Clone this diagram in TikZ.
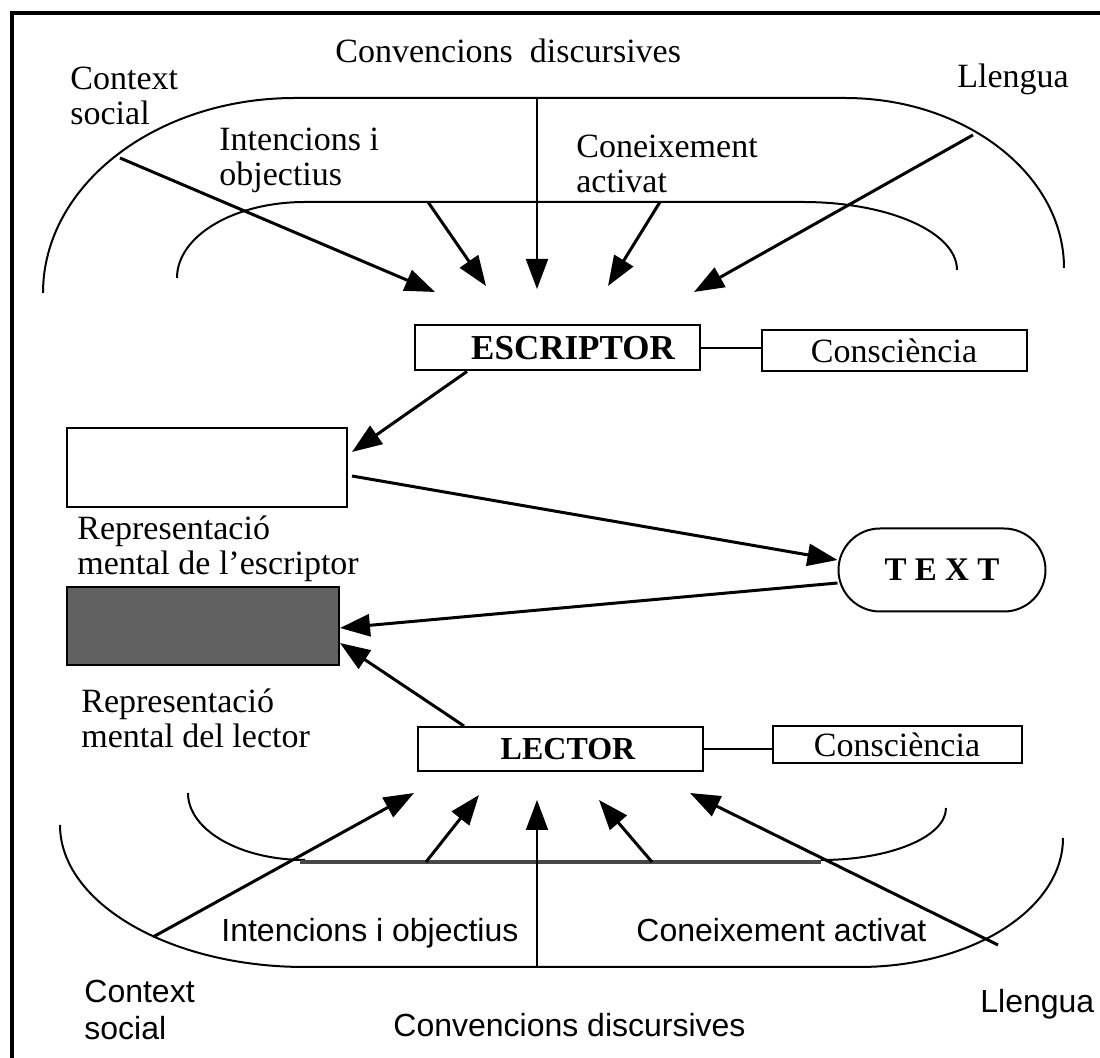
\documentclass[tikz,border=0pt]{standalone}
\usepackage{fontspec}
\setmainfont{Liberation Serif}
\setsansfont{Liberation Sans}
\usetikzlibrary{arrows.meta}

\begin{document}
\begin{tikzpicture}[x=0.5pt, y=-0.5pt, >={Triangle[length=15pt,width=11pt]},
    boxnode/.style={draw, line width=1pt, inner sep=0pt},
    arcline/.style={line width=1pt},
    conn/.style={->, line width=1.5pt},
    serlab/.style={inner sep=0pt, align=left, font=\fontsize{17}{17.5}\selectfont},
    sanlab/.style={inner sep=0pt, align=left, font=\sffamily\fontsize{16}{18.5}\selectfont}]
  \useasboundingbox (0,0) rectangle (1100,1058);
  \draw[line width=2pt] (1100,13) -- (12,13) -- (12,1058);

  % boxes
  \node[boxnode, minimum width=142.5pt, minimum height=22.5pt,
        font=\bfseries\fontsize{17.5}{18}\selectfont] (escr) at (557,348) {\hspace*{16pt}ESCRIPTOR};
  \node[boxnode, minimum width=132.5pt, minimum height=20.5pt,
        font=\fontsize{17}{18}\selectfont] (consc1) at (894,351) {Consciència};
  \node[boxnode, minimum width=140pt, minimum height=39.5pt] (mentw) at (207,468) {};
  \node[boxnode, fill=black!62, minimum width=136pt, minimum height=39pt] (mentg) at (203,626) {};
  \node[boxnode, rounded corners=20.75pt, minimum width=103.5pt, minimum height=41.5pt,
        font=\bfseries\fontsize{16.5}{18}\selectfont] (text) at (942,570) {T E X T};
  \node[boxnode, minimum width=142.5pt, minimum height=22pt,
        font=\bfseries\fontsize{16}{17}\selectfont] (lect) at (560,749) {\hspace*{8pt}LECTOR};
  \node[boxnode, minimum width=124.5pt, minimum height=18.5pt,
        font=\fontsize{17}{18}\selectfont] (consc2) at (897,745) {Consciència};

  % upper arcs
  \draw[arcline] (43,293) .. controls (43,185) and (156,98) .. (295,98) -- (845,98)
    .. controls (966,98) and (1064,175) .. (1064,268);
  \draw[arcline] (177,278) .. controls (177,236) and (234,202) .. (305,202) -- (803,202)
    .. controls (888,202) and (957,232) .. (957,270);
  % lower arcs
  \draw[arcline] (60,825) .. controls (60,903) and (170,967) .. (305,967) -- (859,967)
    .. controls (972,967) and (1063,909) .. (1063,838);
  \draw[arcline] (188,793) .. controls (188,830) and (240,860) .. (305,860);
  \draw[arcline] (821,860) .. controls (890,860) and (946,837) .. (946,808);
  \draw[line width=2.4pt, black!72] (300,862) -- (821,862);

  % labels, writer side
  \node[serlab, anchor=base west] (convT) at (335,63) {Convencions\ \ discursives};
  \node[serlab, anchor=north west] (ctxT) at (70,67) {Context\\social};
  \node[serlab, anchor=base west] (llT) at (957,88) {Llengua};
  \node[serlab, anchor=north west] (intT) at (219,128) {Intencions i\\objectius};
  \node[serlab, anchor=north west] (conT) at (576,135) {Coneixement\\activat};
  \node[serlab, anchor=north west] (repw) at (77,515) {Representació\\mental de l'escriptor};
  \node[serlab, anchor=north west] (repg) at (81,688) {Representació\\mental del lector};
  % labels, reader side
  \node[sanlab, anchor=base west] (intB) at (221,942) {Intencions i objectius};
  \node[sanlab, anchor=base west] (conB) at (636,942) {Coneixement activat};
  \node[sanlab, anchor=north west] (ctxB) at (84,980) {Context\\social};
  \node[sanlab, anchor=base west] (convB) at (393,1037) {Convencions discursives};
  \node[sanlab, anchor=base west] (llB) at (980,1013) {Llengua};

  % free ends
  \coordinate (ctxTa) at (120,158);  \coordinate (ctxTb) at (435,292);
  \coordinate (intTa) at (428,202);  \coordinate (intTb) at (486,286);
  \coordinate (convTa) at (537,98);  \coordinate (convTb) at (537,289);
  \coordinate (conTa) at (660,202);  \coordinate (conTb) at (608,286);
  \coordinate (llTa) at (973,135);   \coordinate (llTb) at (694,292);
  \coordinate (ctxBa) at (153,937);  \coordinate (ctxBb) at (414,793);
  \coordinate (intBa) at (426,862);  \coordinate (intBb) at (479,795);
  \coordinate (convBa) at (537,967); \coordinate (convBb) at (537,800);
  \coordinate (conBa) at (652,862);  \coordinate (conBb) at (599,800);
  \coordinate (llBa) at (998,945);   \coordinate (llBb) at (690,793);

  % into the writer
  \path[conn]
    (ctxTa) edge (ctxTb)
    (intTa) edge (intTb)
    (conTa) edge (conTb)
    (llTa) edge (llTb);
  \path[conn, line width=1pt] (convTa) edge (convTb);
  % into the reader
  \path[conn]
    (ctxBa) edge (ctxBb)
    (intBa) edge (intBb)
    (conBa) edge (conBb)
    (llBa) edge (llBb);
  \path[conn, line width=1pt] (convBa) edge (convBb);

  % middle
  \draw[line width=1pt] (escr.east) -- (escr.east -| consc1.west);
  \draw[line width=1pt] (lect.east) -- (lect.east -| consc2.west);
  \path[conn]
    ([xshift=-45pt]escr.south) edge ([xshift=2pt,yshift=8pt]mentw.east)
    ([xshift=2pt,yshift=-4pt]mentw.east) edge ([yshift=5pt]text.west)
    ([yshift=-6.5pt]text.west) edge ([yshift=-1pt]mentg.east)
    ([xshift=-48pt]lect.north) edge ([yshift=-8.5pt]mentg.east);
\end{tikzpicture}
\end{document}
